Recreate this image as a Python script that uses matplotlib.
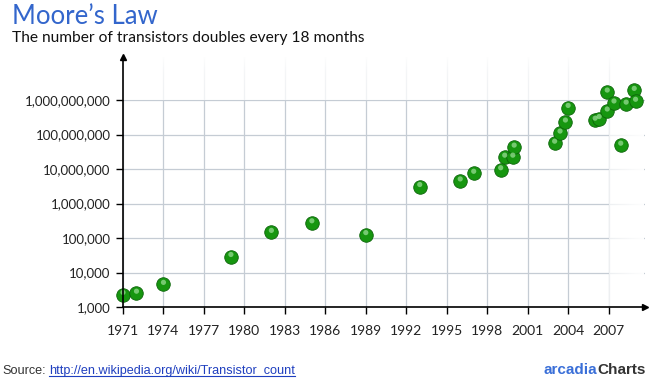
import numpy as np
import matplotlib
matplotlib.use('Agg')
import matplotlib.pyplot as plt
from matplotlib.ticker import FixedLocator, FuncFormatter, NullLocator

# Moore's law - transistor counts
years = [1971, 1972, 1974, 1979, 1982, 1985, 1989, 1993, 1996, 1997,
         1999, 1999.3, 1999.9, 2000, 2003, 2003.4, 2003.8, 2004,
         2006, 2006.3, 2006.9, 2006.9, 2007.4, 2007.9, 2008.3, 2008.9, 2009]
transistors = [2300, 2500, 4500, 29000, 145000, 275000, 125000, 3.1e6, 4.5e6, 7.5e6,
               9.5e6, 2.2e7, 2.2e7, 4.3e7, 5.6e7, 1.1e8, 2.3e8, 6.1e8,
               2.6e8, 2.9e8, 4.8e8, 1.7e9, 8.2e8, 4.9e7, 7.6e8, 1.9e9, 9.2e8]

year_ticks = list(range(1971, 2008, 3))
count_ticks = [1e3, 1e4, 1e5, 1e6, 1e7, 1e8, 1e9]

plt.rcParams['font.family'] = ['Lato', 'DejaVu Sans']

fig = plt.figure(figsize=(6.5, 3.79), dpi=100)
ax = fig.add_axes([123/650, 1 - 307/379, (645 - 123)/650, (307 - 57)/379])

ax.set_yscale('log')
ax.xaxis.set_major_locator(FixedLocator(year_ticks))
ax.yaxis.set_major_locator(FixedLocator(count_ticks))
ax.yaxis.set_minor_locator(NullLocator())
ax.yaxis.set_major_formatter(FuncFormatter(lambda v, p: '{:,.0f}'.format(v)))
ax.tick_params(axis='both', direction='out', length=5, width=1, color='black',
               labelsize=9.5, labelcolor='#222222', pad=4)
ax.tick_params(axis='x', pad=8, labelsize=10)

ax.grid(True, color='#c5ccd4', linewidth=0.9)
ax.set_axisbelow(True)

# fade grid towards the top and the right side
grad_top = np.linspace(0, 1, 100).reshape(-1, 1)
top_img = np.ones((100, 1, 4))
top_img[..., 3] = 0.75 + 0.25 * grad_top
ax.imshow(top_img, extent=[1971, 2009.7, 1e9, 10**10.25], aspect='auto',
          origin='lower', zorder=1, interpolation='bilinear')
grad_r = np.linspace(0, 1, 100).reshape(1, -1)
right_img = np.ones((1, 100, 4))
right_img[..., 3] = 0.7 + 0.3 * grad_r
ax.imshow(right_img, extent=[2007.05, 2009.7, 1e3, 1e9], aspect='auto',
          origin='lower', zorder=1, interpolation='bilinear')
ax.set_xlim(1971, 2009.7)
ax.set_ylim(1e3, 10**10.25)

for s in ['top', 'right']:
    ax.spines[s].set_visible(False)
for s in ['left', 'bottom']:
    ax.spines[s].set_linewidth(1.2)
    ax.spines[s].set_zorder(4)
ax.plot(0, 1, '^', color='black', markersize=5, transform=ax.transAxes, clip_on=False, zorder=5)
ax.plot(1, 0, '>', color='black', markersize=5, transform=ax.transAxes, clip_on=False, zorder=5)

# green "balls"
ax.scatter(years, transistors, s=95, color='#16960f', edgecolors='#0c650a',
           linewidths=0.6, zorder=3, clip_on=False)
ax.scatter(years, [t * 1.15 for t in transistors], s=14, color='#9ee09a',
           edgecolors='none', alpha=0.7, zorder=3.1, clip_on=False)

fig.text(12/650, 1 - 24/379, "Moore\u2019s Law", fontsize=18.5, color='#3366cc')
fig.text(12/650, 1 - 42/379, "The number of transistors doubles every 18 months",
         fontsize=11.2, color='#111111')

fam = ['Liberation Sans Narrow', 'Liberation Sans', 'DejaVu Sans']
src = fig.text(2/650, 1 - 374/379, "Source:", color='#333333', fontsize=9.1, family=fam)
fig.canvas.draw()
r = fig.canvas.get_renderer()
bb = src.get_window_extent(r)
link = fig.text((bb.x1 + 3) / 650, 1 - 374/379,
                "http://en.wikipedia.org/wiki/Transistor_count",
                color='#1f3fbf', fontsize=9.1, family=fam)
lb = link.get_window_extent(r)
fig.add_artist(plt.Line2D([lb.x0 / 650, lb.x1 / 650], [1 - 376/379, 1 - 376/379],
                          color='#1f3fbf', linewidth=0.8))
ch = fig.text(646/650, 1 - 374/379, "Charts", color='#333333', fontweight='bold',
              ha='right', fontsize=11, family=fam)
cb = ch.get_window_extent(r)
fig.text((cb.x0 - 0.5) / 650, 1 - 374/379, "arcadia", color='#3a6fd8',
         fontweight='bold', ha='right', fontsize=11, family=fam)

fig.savefig('out.png', dpi=100)
